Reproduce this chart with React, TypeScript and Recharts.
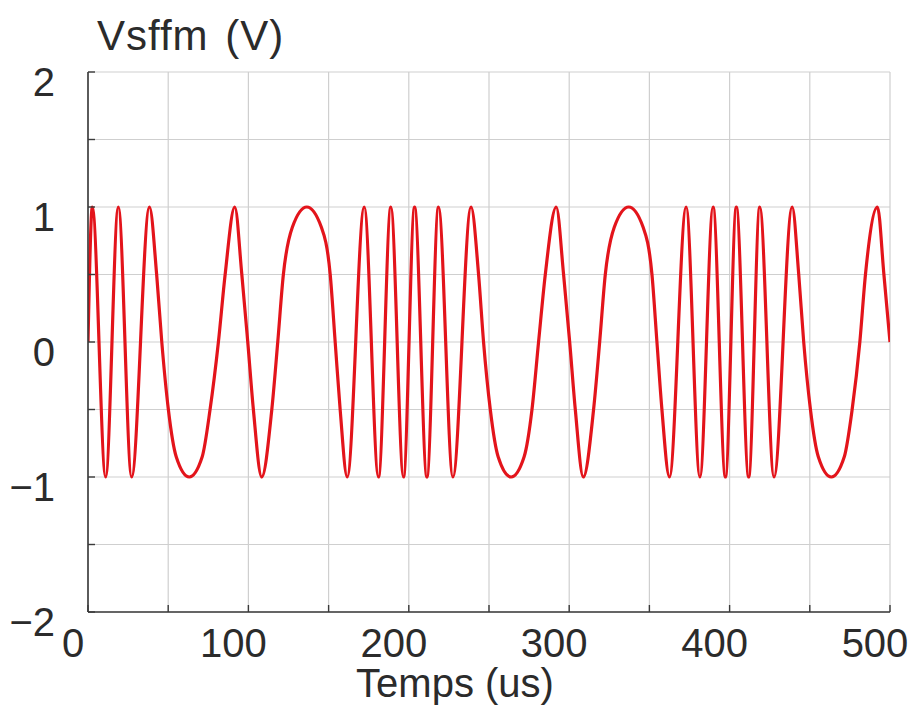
import React from 'react';
import { LineChart, Line, XAxis, YAxis, CartesianGrid } from 'recharts';

// Time (us) of each read-off point of the waveform
const timeUs = [
  0, 2.7, 11.0, 18.9, 27.2, 38.3, 42.8, 46.0, 50.1, 55.0, 63.1, 71.2, 76.1, 81.3, 85.5, 91.5,
  95.9, 99.6, 103.1, 108.3, 114.6, 118.3, 121.8, 127.4, 136.4, 145.5, 151.0, 154.1, 157.2, 161.6,
  172.2, 181.1, 188.8, 196.7, 203.6, 211.3, 218.5, 227.5, 238.8, 243.5, 246.6, 250.8, 255.7,
  263.8, 271.9, 276.8, 280.9, 285.1, 291.9, 296.5, 300.3, 303.8, 308.8, 315.2, 319.0, 322.5, 328.1,
  337.1, 346.1, 351.6, 354.7, 357.8, 362.5, 372.9, 381.5, 389.7, 397.4, 404.2, 411.9, 418.8,
  427.7, 439.0, 443.1, 446.2, 450.4, 455.3, 463.4, 471.5, 476.4, 481.2, 484.7, 492.2, 496.2, 500,
];
// Voltage (V) at each point: peaks, troughs and level crossings
const voltage = [
  0, 1, -1, 1, -1, 1, 0.5, 0, -0.5, -0.85, -1, -0.85, -0.5, 0, 0.5, 1,
  0.5, 0, -0.5, -1, -0.5, 0, 0.5, 0.85, 1, 0.85, 0.5, 0, -0.5, -1,
  1, -1, 1, -1, 1, -1, 1, -1, 1, 0.5, 0, -0.5, -0.85,
  -1, -0.85, -0.5, 0, 0.5, 1, 0.5, 0, -0.5, -1, -0.5, 0, 0.5, 0.85,
  1, 0.85, 0.5, 0, -0.5, -1, 1, -1, 1, -1, 1, -1, 1,
  -1, 1, 0.5, 0, -0.5, -0.85, -1, -0.85, -0.5, 0, 0.5, 1, 0.5, 0,
];

const xTicks = [0, 50, 100, 150, 200, 250, 300, 350, 400, 450, 500];
const xTickLabels: Record<number, string> = { 0: '0', 100: '100', 200: '200', 300: '300', 400: '400', 500: '500' };
const yTicks = [-2, -1.5, -1, -0.5, 0, 0.5, 1, 1.5, 2];
const yTickLabels: Record<string, string> = { '2': '2', '1': '1', '0': '0', '-1': '\u22121', '-2': '\u22122' };

const data = timeUs.map((t, i) => ({ t, v: voltage[i] }));

const FONT = '"Liberation Sans", Arial, Helvetica, sans-serif';
const TEXT = '#2b2b2b';
const FRAME = '#3a3a3a';

const BottomTick = (props: any) => {
  const { x, y, payload } = props;
  const label = xTickLabels[payload.value];
  return (
    <g>
      <line x1={x} x2={x} y1={y} y2={y - 7} stroke={FRAME} strokeWidth={1.4} />
      {label !== undefined && (
        <text x={x - 15} y={y + 45} textAnchor="middle" fontSize={40} fill={TEXT} fontFamily={FONT}>
          {label}
        </text>
      )}
    </g>
  );
};

const TopTick = (props: any) => {
  const { x, y } = props;
  return <line x1={x} x2={x} y1={y} y2={y + 7} stroke={FRAME} strokeWidth={1.4} />;
};

const LeftTick = (props: any) => {
  const { x, y, payload } = props;
  const label = yTickLabels[String(payload.value)];
  return (
    <g>
      <line x1={x} x2={x + 7} y1={y} y2={y} stroke={FRAME} strokeWidth={1.4} />
      {label !== undefined && (
        <text x={x - 33} y={y + 24} textAnchor="end" fontSize={40} fill={TEXT} fontFamily={FONT}>
          {label}
        </text>
      )}
    </g>
  );
};

const RightTick = (props: any) => {
  const { x, y } = props;
  return <line x1={x} x2={x - 7} y1={y} y2={y} stroke={FRAME} strokeWidth={1.4} />;
};

export default function App() {
  return (
    <div style={{ position: 'absolute', left: 0, top: 0, width: 917, height: 720, background: '#fff' }}>
      <LineChart
        width={917}
        height={720}
        data={data}
        margin={{ top: 72, right: 27, bottom: 48, left: 0 }}
      >
        <CartesianGrid stroke="#cfcfcf" strokeWidth={1.2} />
        <XAxis
          dataKey="t"
          type="number"
          domain={[0, 500]}
          ticks={xTicks}
          interval={0}
          height={60}
          tickSize={0}
          tickMargin={0}
          tickLine={false}
          axisLine={{ stroke: FRAME, strokeWidth: 1.6 }}
          tick={<BottomTick />}
          allowDataOverflow
        />
        <XAxis
          xAxisId="top"
          orientation="top"
          type="number"
          domain={[0, 500]}
          ticks={xTicks}
          interval={0}
          height={0}
          tickSize={0}
          tickMargin={0}
          tickLine={false}
          axisLine={{ stroke: FRAME, strokeWidth: 1.6 }}
          tick={<TopTick />}
        />
        <YAxis
          type="number"
          domain={[-2, 2]}
          ticks={yTicks}
          interval={0}
          width={88}
          tickSize={0}
          tickMargin={0}
          tickLine={false}
          axisLine={{ stroke: FRAME, strokeWidth: 1.6 }}
          tick={<LeftTick />}
          allowDataOverflow
        />
        <YAxis
          yAxisId="right"
          orientation="right"
          type="number"
          domain={[-2, 2]}
          ticks={yTicks}
          interval={0}
          width={0}
          tickSize={0}
          tickMargin={0}
          tickLine={false}
          axisLine={{ stroke: FRAME, strokeWidth: 1.6 }}
          tick={<RightTick />}
        />
        <Line
          type="monotone"
          dataKey="v"
          stroke="#e3141b"
          strokeWidth={3.2}
          dot={false}
          activeDot={false}
          isAnimationActive={false}
        />
      </LineChart>
      <div
        style={{
          position: 'absolute', left: 97, top: 15, fontSize: 42, lineHeight: '42px',
          fontFamily: FONT, color: TEXT, whiteSpace: 'nowrap', letterSpacing: '1px', wordSpacing: '4px',
        }}
      >
        Vsffm (V)
      </div>
      <div
        style={{
          position: 'absolute', left: 255, width: 400, top: 663, fontSize: 40, lineHeight: '40px',
          fontFamily: FONT, color: TEXT, textAlign: 'center', whiteSpace: 'nowrap',
        }}
      >
        Temps (us)
      </div>
    </div>
  );
}
